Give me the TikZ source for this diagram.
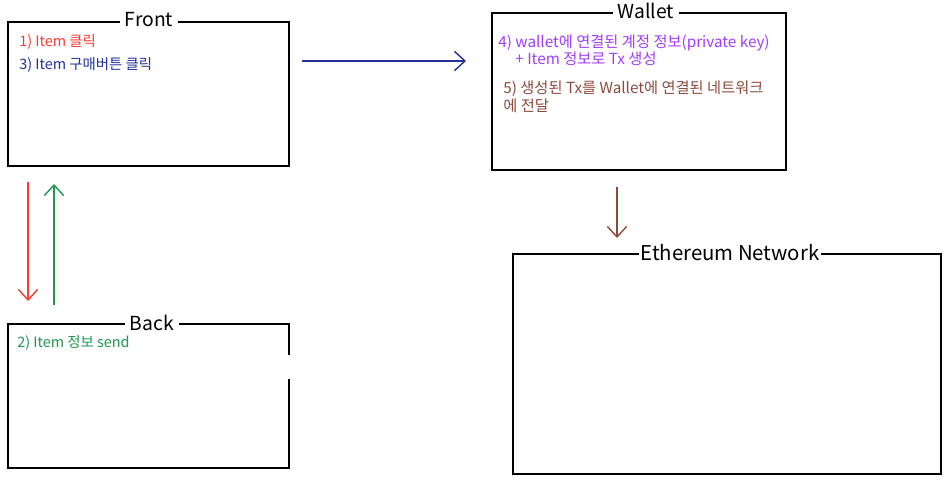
\documentclass[tikz,border=0pt]{standalone}
\usepackage{fontspec}
\setmainfont{Noto Sans CJK KR}
\usetikzlibrary{arrows.meta}

\definecolor{clickred}{HTML}{FF3B30}
\definecolor{buynavy}{HTML}{22309A}
\definecolor{sendgreen}{HTML}{1E9850}
\definecolor{txpurple}{HTML}{A23CFF}
\definecolor{netbrown}{HTML}{8C4A3C}

\tikzset{
  box/.style={draw=black, line width=1.1pt},
  boxtitle/.style={fill=white, inner xsep=3pt, inner ysep=1pt, font=\fontsize{11}{13}\selectfont},
  note/.style={anchor=west, inner sep=0pt, font=\fontsize{8.2}{10}\selectfont},
  bignote/.style={note, font=\fontsize{8.7}{10}\selectfont},
  flow/.style={line width=0.8pt, -{Straight Barb[length=6pt,width=11pt,line width=0.8pt]}}
}

\begin{document}
\begin{tikzpicture}[x=0.02cm, y=-0.02cm]
    \useasboundingbox (0,0) rectangle (950,483);

    % Front box
    \draw[box] (8,22) rectangle (289,166);
    \node[boxtitle] (front) at (149,20) {Front};
    \node[note, text=clickred] (click) at (19,42) {1) Item 클릭};
    \node[note, text=buynavy] (buy) at (19,65) {3) Item 구매버튼 클릭};

    % Wallet box
    \draw[box] (492,13) rectangle (786,170);
    \node[boxtitle] (wallet) at (646,11) {Wallet};
    \node[bignote, text=txpurple] (sign) at (498,43) {4) wallet에 연결된 계정 정보(private key)};
    \node[bignote, text=txpurple] (sign2) at (515,59) {+ Item 정보로 Tx 생성};
    \node[bignote, text=netbrown] (relay) at (503,89) {5) 생성된 Tx를 Wallet에 연결된 네트워크};
    \node[bignote, text=netbrown] (relay2) at (503,106) {에 전달};

    % Back box (right side left open a bit)
    \draw[box] (289,355) -- (289,324) -- (8,324) -- (8,468) -- (289,468) -- (289,379);
    \node[boxtitle] (back) at (152,323) {Back};
    \node[note, text=sendgreen] (send) at (17,343) {2) Item 정보 send};

    % Ethereum Network box
    \draw[box] (513,254) rectangle (941,474);
    \node[boxtitle, inner xsep=1pt, font=\fontsize{11.6}{13}\selectfont] (eth) at (730,253) {Ethereum Network};

    % arrows
    \coordinate (fa) at (28,182);
    \coordinate (ba) at (28,301);
    \coordinate (bb) at (54,305);
    \coordinate (fb) at (54,184);
    \coordinate (fc) at (302,61);
    \coordinate (wa) at (466,61);
    \coordinate (wb) at (617,187);
    \coordinate (ea) at (617,238);

    \draw[flow, clickred] (fa) -- (ba);
    \draw[flow, sendgreen] (bb) -- (fb);
    \draw[flow, buynavy] (fc) -- (wa);
    \draw[flow, netbrown] (wb) -- (ea);
\end{tikzpicture}
\end{document}
